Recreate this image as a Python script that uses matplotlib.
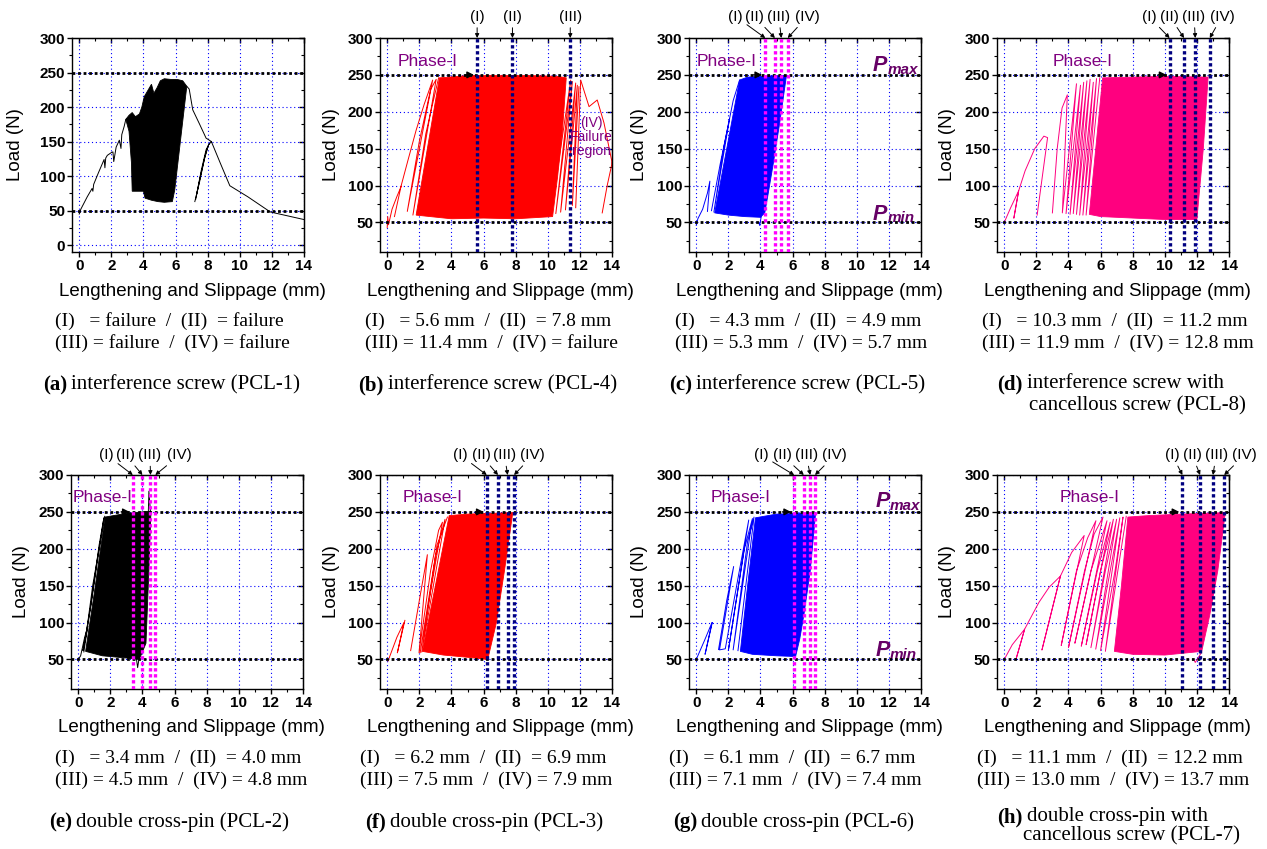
import numpy as np
import matplotlib
matplotlib.use("Agg")
import matplotlib.pyplot as plt
from matplotlib.ticker import MultipleLocator, NullFormatter

nan = np.nan
SANS = "Liberation Sans"
SERIF = "Liberation Serif"
PURPLE = "#800080"
PDARK = "#660066"

# ---------------- data ----------------
x_ticks = [0, 2, 4, 6, 8, 10, 12, 14]
y_ticks_a = [0, 50, 100, 150, 200, 250, 300]
y_ticks = [50, 100, 150, 200, 250, 300]
p_min, p_max = 50, 250
mark_names = ["(I)", "(II)", "(III)", "(IV)"]

# (a) interference screw PCL-1
a_dense_x = [2.9, 3.1, 3.3, 3.5, 3.75, 3.9, 4.05, 4.3, 4.5, 4.65, 4.85, 5.05, 5.3, 5.7, 6.1, 6.45, 6.7,
             6.5, 6.3, 6.1, 5.95, 5.8, 5.3, 4.9, 4.5, 4.1, 4.0, 3.7, 3.3, 3.25, 3.1]
a_dense_y = [182, 188, 192, 186, 190, 200, 215, 225, 233, 220, 228, 238, 241, 240, 240, 238, 230,
             190, 150, 110, 80, 63, 62, 63, 65, 68, 78, 78, 78, 120, 165]
a_lines_x = [0, 0.1, 0.5, 0.8, 0.85, 0.9, 1.2, 1.55, 1.6, 1.65, 1.75, 2.0, 2.1, 2.15, 2.3, 2.5, 2.6, 2.65,
             2.8, 2.9, 3.0, nan,
             6.7, 6.85, 7.07, 7.5, 7.9, 8.23, 8.8, 9.38, 10.5, 11.9, 14.0, nan,
             7.2, 7.5, 7.8, 8.05, 8.23, nan, 7.3, 7.6, 7.9, 8.1, nan, 7.25, 7.55, 7.85, 8.0]
a_lines_y = [45, 52, 70, 82, 78, 88, 105, 124, 112, 126, 130, 134, 135, 121, 142, 152, 140, 160,
             172, 182, 184, nan,
             230, 226, 196, 175, 155, 150, 118, 86, 70, 48, 37, nan,
             63, 92, 125, 145, 150, nan, 72, 108, 138, 147, nan, 66, 100, 130, 142]

# (b) interference screw PCL-4
b_marks = [5.6, 7.8, 11.4]
b_label_x = [5.6, 7.8, 11.4]
b_dense_x = [1.8, 2.5, 3.25, 5.0, 7.0, 9.0, 10.6, 11.15, 10.9, 10.6, 10.3, 8.0, 6.0, 4.0, 1.8]
b_dense_y = [60, 150, 246, 249, 249, 249, 248, 246, 170, 110, 58, 55, 56, 55, 60]
b_lines_x = [0, 0.03, 0.08, 0.3, 0.6, 0.87, nan,
             0.45, 0.87, 1.3, 1.8, 2.3, 2.83, 1.25, 2.0, 2.7, 3.05, 1.6, 2.4, 3.2, nan,
             10.19, 11.43, 10.5, 11.53, 10.8, 11.74, 11.1, 11.84, 11.53, 11.94, nan,
             11.74, 12.05, 12.57, 13.08, 13.5, 13.97, 14.1, nan, 13.39, 13.7, 14.1]
b_lines_y = [43, 58, 47, 68, 85, 99, nan,
             58, 100, 135, 175, 210, 243, 65, 160, 230, 244, 60, 170, 246, nan,
             60, 243, 62, 241, 64, 239, 67, 236, 73, 234, nan,
             70, 243, 207, 216, 185, 135, 120, nan, 63, 100, 140]

# (c) interference screw PCL-5
c_marks = [4.3, 4.9, 5.3, 5.7]
c_label_x = [2.46, 3.64, 5.14, 6.9]
c_dense_x = [1.15, 1.9, 2.7, 3.2, 4.0, 5.0, 5.62, 5.2, 4.8, 4.45, 4.27, 4.0, 3.0, 2.0, 1.15]
c_dense_y = [63, 150, 243, 247, 248, 249, 249, 185, 130, 85, 63, 57, 58, 60, 63]
c_lines_x = [0, 0.1, 0.4, 0.7, 0.85, 0.7, nan, 0.95, 1.5, 2.08, 1.1, 1.7, 2.3, 2.7, nan, 3.9, 3.95, 4.05]
c_lines_y = [46, 55, 68, 90, 106, 65, nan, 66, 130, 191, 64, 150, 215, 243, nan, 50, 46, 58]

# (d) interference screw with cancellous screw PCL-8
d_marks = [10.3, 11.2, 11.9, 12.8]
d_label_x = [9.02, 10.31, 11.82, 13.56]
d_dense_x = [5.3, 5.7, 6.13, 8.0, 10.0, 12.7, 12.4, 12.0, 10.0, 8.0, 6.0, 5.3]
d_dense_y = [61, 150, 246, 247, 248, 247, 150, 54, 54, 56, 58, 61]
d_lines_x = [0, 0.4, 0.9, 0.6, 0.9, 1.3, 1.9, 2.47, 2.7, 2.05, nan,
             3.0, 3.3, 3.6, 3.93, 3.62, 4.5, 3.85, 4.75, 4.1, 4.95, 4.3, 5.15, 4.5, 5.35, 4.7, 5.55,
             4.9, 5.75, 5.1, 5.95]
d_lines_y = [50, 70, 93, 56, 93, 120, 150, 167, 165, 60, nan,
             63, 150, 205, 223, 63, 238, 62, 236, 61, 240, 62, 242, 61, 244, 60, 240,
             60, 245, 60, 246]

# (e) double cross-pin PCL-2
e_marks = [3.4, 4.0, 4.5, 4.8]
e_label_x = [1.78, 2.97, 4.47, 6.31]
e_dense_x = [0.46, 1.0, 1.67, 3.0, 4.53, 4.4, 4.22, 3.8, 3.0, 1.5, 0.46]
e_dense_y = [61, 140, 243, 248, 251, 170, 72, 50, 52, 55, 61]
e_lines_x = [0, 0.15, 0.4, 0.6, 0.3, 0.8, 1.3, 1.6, 0.35, 0.9, 1.65, nan, 4.25, 4.4, 4.5, nan, 3.6, 3.7, 3.85]
e_lines_y = [50, 55, 80, 95, 62, 125, 205, 242, 60, 150, 244, nan, 150, 278, 250, nan, 55, 39, 60]

# (f) double cross-pin PCL-3
f_marks = [6.2, 6.9, 7.5, 7.9]
f_label_x = [4.55, 5.84, 7.3, 9.07]
f_dense_x = [2.19, 3.0, 3.86, 5.0, 6.5, 7.82, 7.3, 6.8, 6.26, 5.0, 3.5, 2.19]
f_dense_y = [61, 150, 245, 247, 248, 249, 170, 100, 50, 53, 56, 61]
f_lines_x = [0.05, 0.6, 1.04, 0.63, 1.1, nan, 1.46, 2.0, 2.5, 1.98, 2.7, 3.2, 3.44, 2.05, 3.0, 3.6, 2.15,
             3.1, 3.75]
f_lines_y = [48, 80, 100, 59, 103, nan, 62, 130, 192, 59, 170, 225, 236, 59, 190, 240, 60, 205, 243]

# (g) double cross-pin PCL-6
g_marks = [6.1, 6.7, 7.1, 7.4]
g_label_x = [4.06, 5.35, 6.85, 8.63]
g_dense_x = [2.75, 3.2, 3.69, 5.0, 6.5, 7.44, 7.1, 6.71, 6.45, 6.19, 5.0, 3.5, 2.75]
g_dense_y = [61, 150, 242, 247, 248, 249, 170, 111, 78, 54, 55, 57, 61]
g_lines_x = [0, 0.5, 0.98, 0.55, 1.0, nan, 1.39, 1.9, 2.33, 1.45, 1.81, 2.6, 3.27, 2.0, 3.0, 3.5, 2.3,
             3.2, 3.6, 2.6]
g_lines_y = [50, 75, 100, 57, 100, nan, 63.5, 130, 176, 63, 64.5, 160, 239, 62, 200, 241, 63,
             210, 243, 62]

# (h) double cross-pin with cancellous screw PCL-7
h_marks = [11.1, 12.2, 13.0, 13.7]
h_label_x = [10.46, 11.71, 13.2, 14.96]
h_dense_x = [6.86, 7.3, 7.7, 9.0, 11.0, 13.77, 13.3, 12.8, 12.3, 10.0, 8.0, 6.86]
h_dense_y = [61, 150, 243, 245, 247, 249, 170, 110, 61, 56, 57, 61]
h_lines_x = [0, 0.5, 1.27, 0.73, 1.27, 2.15, 2.8, 3.5, 2.35, 3.5, 4.2, 4.98, 3.55, 4.5, 5.2, 5.71,
             4.0, 5.0, 5.6, 6.15, 4.4, 5.4, 6.4, 4.8, 5.8, 6.6, 5.1, 6.0, 6.8, 5.4, 6.3, 7.0,
             5.7, 6.6, 7.2, 6.0, 6.9, 7.4, 6.3, 7.6, nan, 11.8, 11.9, 12.3]
h_lines_y = [50, 70, 91, 50, 91, 127, 148, 163, 63, 163, 195, 218, 69, 170, 215, 238,
             66, 170, 220, 243, 72, 170, 238, 68, 170, 236, 70, 170, 240, 66, 170, 240,
             64, 170, 242, 62, 170, 243, 61, 244, nan, 50, 46, 60]

# value texts and captions
a_txt = ["(I)   = failure  /  (II)  = failure", "(III) = failure  /  (IV) = failure"]
b_txt = ["(I)   = 5.6 mm  /  (II)  = 7.8 mm", "(III) = 11.4 mm  /  (IV) = failure"]
c_txt = ["(I)   = 4.3 mm  /  (II)  = 4.9 mm", "(III) = 5.3 mm  /  (IV) = 5.7 mm"]
d_txt = ["(I)   = 10.3 mm  /  (II)  = 11.2 mm", "(III) = 11.9 mm  /  (IV) = 12.8 mm"]
e_txt = ["(I)   = 3.4 mm  /  (II)  = 4.0 mm", "(III) = 4.5 mm  /  (IV) = 4.8 mm"]
f_txt = ["(I)   = 6.2 mm  /  (II)  = 6.9 mm", "(III) = 7.5 mm  /  (IV) = 7.9 mm"]
g_txt = ["(I)   = 6.1 mm  /  (II)  = 6.7 mm", "(III) = 7.1 mm  /  (IV) = 7.4 mm"]
h_txt = ["(I)   = 11.1 mm  /  (II)  = 12.2 mm", "(III) = 13.0 mm  /  (IV) = 13.7 mm"]

# ---------------- figure ----------------
W, H = 1267, 849
AW, AH = 232, 214
fig = plt.figure(figsize=(W / 100, H / 100), dpi=100)

TXT_FS = 14
CAP_FS = 15
LAB_FS = 13.5
TICK_FS = 11


def ftext(x, y, s, **kw):
    return fig.text(x / W, 1 - y / H, s, **kw)


def draw_panel(p):
    left, top = p["left"], p["top"]
    ax = fig.add_axes([left / W, 1 - (top + AH) / H, AW / W, AH / H])
    ax.set_xlim(-0.45, 14)
    ax.set_ylim(*p["ylim"])
    ax.set_axisbelow(True)
    ax.grid(True, which="major", color="#0000ff", ls=(0, (1, 2.5)), lw=0.8)
    col = p["color"]
    ax.fill(p["dense_x"], p["dense_y"], color=col, lw=0.6, zorder=2)
    ax.plot(p["lines_x"], p["lines_y"], color=col, lw=0.7, zorder=2)
    for lev in (p_min, p_max):
        ax.axhline(lev, color="black", lw=2.0, ls=(0, (1, 1)), zorder=4)
    marks = p.get("marks", [])
    for m in marks:
        ax.axvline(m, color=p["mcolor"], lw=2.4, ls=(0, (1, 0.8)), zorder=5)
    for name, m, lx in zip(mark_names, marks, p.get("label_x", [])):
        ax.annotate(name, xy=(m, 300), xytext=(lx, p["label_y"]), ha="center", va="center",
                    fontsize=11, family=SANS, annotation_clip=False,
                    arrowprops=dict(arrowstyle="-|>", color="black", lw=0.7,
                                    mutation_scale=6, shrinkA=1, shrinkB=0))
    if "phase" in p:
        px, py = p["phase"]
        ax.text(px, py, "Phase-I", color=PURPLE, fontsize=12.5, family=SANS,
                ha="center", va="center", zorder=6)
        ax.annotate("", xy=(marks[0] - 0.02, 250), xytext=(marks[0] - 0.9, 250),
                    arrowprops=dict(arrowstyle="-|>", color="black", lw=1.0, mutation_scale=10),
                    zorder=6)
    if p.get("pmaxmin"):
        x0, ymax, ymin = p["pmaxmin"]
        for yy, sub in ((ymax, "max"), (ymin, "min")):
            t = ax.text(x0, yy, "P", color=PDARK, fontsize=15.5, fontweight="bold",
                        fontstyle="italic", family=SANS, ha="left", va="baseline", zorder=6)
            ax.annotate(sub, xy=(1, 0), xycoords=t, xytext=(0.3, -0.5), textcoords="offset points",
                        color=PDARK, fontsize=11, fontweight="bold", fontstyle="italic",
                        family=SANS, ha="left", va="bottom", annotation_clip=False)
    if p.get("failure"):
        ax.text(12.7, 166, "(IV)\nFailure\nregion", color=PURPLE, fontsize=10, family=SANS,
                ha="center", va="center", linespacing=1.0, zorder=6)

    yt = p["yticks"]
    ax.set_xticks(x_ticks)
    ax.set_xticklabels([str(t) for t in x_ticks], fontweight="bold", fontsize=TICK_FS, family=SANS)
    ax.set_yticks(yt)
    ax.set_yticklabels([str(t) for t in yt], fontweight="bold", fontsize=TICK_FS, family=SANS)
    ax.xaxis.set_minor_locator(MultipleLocator(1))
    ax.yaxis.set_minor_locator(MultipleLocator(25))
    ax.tick_params(which="major", direction="out", length=3.5, width=1, pad=1.5)
    ax.tick_params(which="minor", direction="out", length=2, width=0.8)
    for s in ax.spines.values():
        s.set_linewidth(1.0)
    sx = ax.secondary_xaxis("top")
    sx.set_xticks(x_ticks)
    sx.xaxis.set_minor_locator(MultipleLocator(1))
    sx.xaxis.set_major_formatter(NullFormatter())
    sx.tick_params(which="major", direction="in", length=3.5, width=1)
    sx.tick_params(which="minor", direction="in", length=2, width=0.8)
    sy = ax.secondary_yaxis("right")
    sy.set_yticks(yt)
    sy.yaxis.set_minor_locator(MultipleLocator(25))
    sy.yaxis.set_major_formatter(NullFormatter())
    sy.tick_params(which="major", direction="in", length=3.5, width=1)
    sy.tick_params(which="minor", direction="in", length=2, width=0.8)

    # axis labels
    bottom = top + AH
    ftext(left + AW / 2 + 4, bottom + 39, "Lengthening and Slippage (mm)", fontsize=LAB_FS,
          family=SANS, ha="center", va="center")
    ftext(left - p.get("ylab_off", 49), top + AH / 2, "Load (N)", fontsize=LAB_FS, family=SANS,
          ha="center", va="center", rotation=90)
    # value lines
    tx = p["txt_x"]
    ftext(tx, bottom + 69, p["txt"][0], fontsize=TXT_FS, family=SERIF, ha="left", va="center")
    ftext(tx, bottom + 91, p["txt"][1], fontsize=TXT_FS, family=SERIF, ha="left", va="center")
    # caption
    cx = p["cap_x"]
    cy = bottom + p.get("cap_dy", 133)
    b = ftext(cx, cy, p["cap"][0], fontsize=CAP_FS, family=SERIF, fontweight="bold",
              ha="left", va="center")
    ax.annotate(p["cap"][1], xy=(1, 0.5), xycoords=b, xytext=(3, 0), textcoords="offset points",
                fontsize=CAP_FS, family=SERIF, ha="left", va="center", annotation_clip=False)
    if len(p["cap"]) == 3:
        ftext(p["cap2_x"], cy + p.get("cap2_dy", 22), p["cap"][2], fontsize=CAP_FS, family=SERIF,
              ha="left", va="center")
    return ax


panels = [
    dict(left=72, top=38, ylim=(-10, 300), yticks=y_ticks_a, color="black",
         dense_x=a_dense_x, dense_y=a_dense_y, lines_x=a_lines_x, lines_y=a_lines_y,
         ylab_off=56, txt=a_txt, txt_x=55, cap=["(a)", "interference screw (PCL-1)"], cap_x=43),
    dict(left=380, top=38, ylim=(10, 300), yticks=y_ticks, color="#ff0000",
         dense_x=b_dense_x, dense_y=b_dense_y, lines_x=b_lines_x, lines_y=b_lines_y,
         marks=b_marks, label_x=b_label_x, label_y=329, mcolor="#000080", phase=(2.52, 268),
         failure=True, txt=b_txt, txt_x=365, cap=["(b)", "interference screw (PCL-4)"], cap_x=358),
    dict(left=689, top=38, ylim=(10, 300), yticks=y_ticks, color="#0000ff",
         dense_x=c_dense_x, dense_y=c_dense_y, lines_x=c_lines_x, lines_y=c_lines_y,
         marks=c_marks, label_x=c_label_x, label_y=329, mcolor="#ff00ff", phase=(1.87, 268),
         pmaxmin=(11.0, 255, 54), txt=c_txt, txt_x=675,
         cap=["(c)", "interference screw (PCL-5)"], cap_x=669),
    dict(left=997, top=38, ylim=(10, 300), yticks=y_ticks, color="#ff007f",
         dense_x=d_dense_x, dense_y=d_dense_y, lines_x=d_lines_x, lines_y=d_lines_y,
         marks=d_marks, label_x=d_label_x, label_y=329, mcolor="#000080", phase=(4.87, 268),
         txt=d_txt, txt_x=982, cap=["(d)", "interference screw with", "cancellous screw (PCL-8)"],
         cap_x=997, cap2_x=1029, cap_dy=132, cap2_dy=22),
    dict(left=71, top=475, ylim=(10, 300), yticks=y_ticks, color="black",
         dense_x=e_dense_x, dense_y=e_dense_y, lines_x=e_lines_x, lines_y=e_lines_y,
         marks=e_marks, label_x=e_label_x, label_y=327, mcolor="#ff00ff", phase=(1.5, 269),
         txt=e_txt, txt_x=55, cap=["(e)", "double cross-pin (PCL-2)"], cap_x=49),
    dict(left=380, top=475, ylim=(10, 300), yticks=y_ticks, color="#ff0000",
         dense_x=f_dense_x, dense_y=f_dense_y, lines_x=f_lines_x, lines_y=f_lines_y,
         marks=f_marks, label_x=f_label_x, label_y=327, mcolor="#000080", phase=(2.82, 269),
         txt=f_txt, txt_x=360, cap=["(f)", "double cross-pin (PCL-3)"], cap_x=365),
    dict(left=689, top=475, ylim=(10, 300), yticks=y_ticks, color="#0000ff",
         dense_x=g_dense_x, dense_y=g_dense_y, lines_x=g_lines_x, lines_y=g_lines_y,
         marks=g_marks, label_x=g_label_x, label_y=327, mcolor="#ff00ff", phase=(2.75, 269),
         pmaxmin=(11.15, 256.5, 54.5), txt=g_txt, txt_x=669,
         cap=["(g)", "double cross-pin (PCL-6)"], cap_x=673),
    dict(left=997, top=475, ylim=(10, 300), yticks=y_ticks, color="#ff007f",
         dense_x=h_dense_x, dense_y=h_dense_y, lines_x=h_lines_x, lines_y=h_lines_y,
         marks=h_marks, label_x=h_label_x, label_y=327, mcolor="#000080", phase=(5.29, 269),
         txt=h_txt, txt_x=977, cap=["(h)", "double cross-pin with", "cancellous screw (PCL-7)"],
         cap_x=997, cap2_x=1023, cap_dy=128, cap2_dy=19),
]

for p in panels:
    draw_panel(p)

fig.savefig("out.png", dpi=100, facecolor="white")
